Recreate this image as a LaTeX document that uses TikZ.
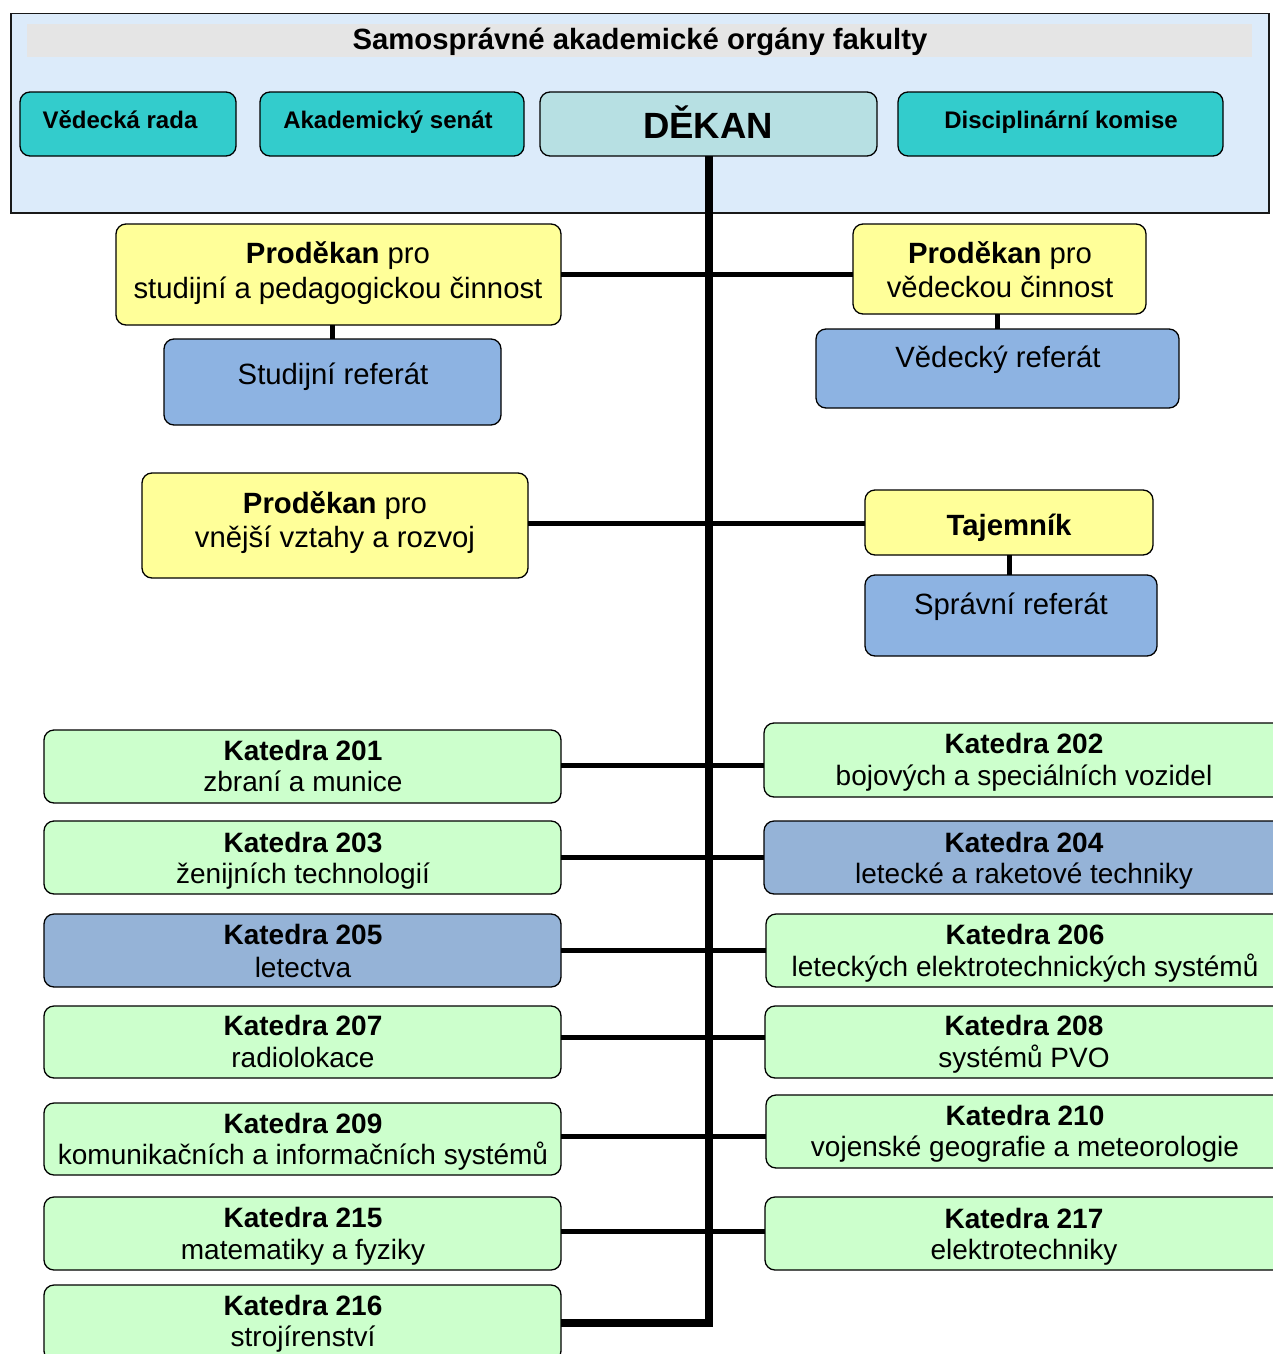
\documentclass[tikz,border=0pt]{standalone}
\usepackage{fontspec}
\setmainfont{Liberation Sans}
\definecolor{outerbg}{RGB}{220,235,250}
\definecolor{barbg}{RGB}{229,229,229}
\definecolor{teal}{RGB}{51,204,204}
\definecolor{dekanbg}{RGB}{183,224,227}
\definecolor{yel}{RGB}{255,255,153}
\definecolor{refblue}{RGB}{141,179,226}
\definecolor{katgreen}{RGB}{204,255,204}
\definecolor{katblue}{RGB}{149,179,215}
\newcommand\mybox[6]{\node[box, fill=#6, minimum width=#4pt, minimum height=#5pt] (#1) at (#2,#3) {};}
\begin{document}
\begin{tikzpicture}[x=1pt,y=-1pt,
  box/.style={draw=black, line width=1.3pt, rounded corners=10pt, anchor=north west, inner sep=0pt, outer sep=0pt},
  t/.style={anchor=base, inner sep=0pt},
  top/.style={t, font=\bfseries\fontsize{24}{28}\selectfont},
  big/.style={t, font=\fontsize{29.3}{35}\selectfont},
  kat/.style={t, font=\fontsize{28}{32}\selectfont},
  trunk/.style={line width=8pt},
  conn/.style={line width=5pt}]
\useasboundingbox (0,0) rectangle (1273,1354);
\clip (0,0) rectangle (1273,1354);
% governing bodies frame
\node[draw=black!90, line width=1.5pt, fill=outerbg, anchor=north west, minimum width=1258pt, minimum height=199pt, inner sep=0pt] (outer) at (10,13) {};
\node[fill=barbg, anchor=north west, minimum width=1225pt, minimum height=33pt, inner sep=0pt] (bar) at (27,24) {};
\node[t, font=\bfseries\fontsize{29.3}{34}\selectfont] (title) at (640,50) {Samosprávné akademické orgány fakulty};
\mybox{vr0}{20}{92}{216}{64}{teal}
\mybox{as}{260}{92}{264}{64}{teal}
\mybox{dekan}{540}{92}{337}{64}{dekanbg}
\mybox{dk}{898}{92}{325}{64}{teal}
\node[top] (vrT) at (120,128) {Vědecká rada};
\node[top] (asT) at (388,128) {Akademický senát};
\node[t, font=\bfseries\fontsize{36.5}{40}\selectfont] (dekanT) at (708,138) {DĚKAN};
\node[top] (dkT) at (1061,128) {Disciplinární komise};
% vice-deans etc.
\mybox{ps}{116}{224}{445}{101}{yel}
\mybox{sr}{164}{339}{337}{86}{refblue}
\mybox{pv}{853}{224}{293}{90}{yel}
\mybox{vref}{816}{329}{363}{79}{refblue}
\mybox{pr}{142}{473}{386}{105}{yel}
\mybox{tj}{865}{490}{288}{65}{yel}
\mybox{sp}{865}{575}{292}{81}{refblue}
\node[big] (psA) at (338,263) {\textbf{Proděkan} pro};
\node[big] (psB) at (338,298) {studijní a pedagogickou činnost};
\node[big] (srT) at (333,384) {Studijní referát};
\node[big] (pvA) at (1000,263) {\textbf{Proděkan} pro};
\node[big] (pvB) at (1000,297) {vědeckou činnost};
\node[big] (vrefT) at (998,367) {Vědecký referát};
\node[big] (prA) at (335,513) {\textbf{Proděkan} pro};
\node[big] (prB) at (335,547) {vnější vztahy a rozvoj};
\node[big, font=\bfseries\fontsize{29.3}{35}\selectfont] (tjT) at (1009,535) {Tajemník};
\node[big] (spT) at (1011,614) {Správní referát};
% departments left
\mybox{k201}{44}{730}{517}{73}{katgreen}
\mybox{k203}{44}{821}{517}{73}{katgreen}
\mybox{k205}{44}{914}{517}{73}{katblue}
\mybox{k207}{44}{1006}{517}{72}{katgreen}
\mybox{k209}{44}{1103}{517}{72}{katgreen}
\mybox{k215}{44}{1197}{517}{73}{katgreen}
\mybox{k216}{44}{1285}{517}{76}{katgreen}
% departments right
\mybox{k202}{764}{723}{520}{74}{katgreen}
\mybox{k204}{764}{821}{520}{73}{katblue}
\mybox{k206}{766}{914}{518}{73}{katgreen}
\mybox{k208}{765}{1006}{519}{72}{katgreen}
\mybox{k210}{766}{1095}{518}{73}{katgreen}
\mybox{k217}{765}{1197}{519}{73}{katgreen}
% department texts
\node[kat] (k201a) at (303,760) {\textbf{Katedra 201}};
\node[kat] (k201b) at (303,791) {zbraní a munice};
\node[kat] (k203a) at (303,852) {\textbf{Katedra 203}};
\node[kat] (k203b) at (303,883) {ženijních technologií};
\node[kat] (k205a) at (303,944) {\textbf{Katedra 205}};
\node[kat] (k205b) at (303,977) {letectva};
\node[kat] (k207a) at (303,1035) {\textbf{Katedra 207}};
\node[kat] (k207b) at (303,1067) {radiolokace};
\node[kat] (k209a) at (303,1133) {\textbf{Katedra 209}};
\node[kat] (k209b) at (303,1164) {komunikačních a informačních systémů};
\node[kat] (k215a) at (303,1227) {\textbf{Katedra 215}};
\node[kat] (k215b) at (303,1259) {matematiky a fyziky};
\node[kat] (k216a) at (303,1315) {\textbf{Katedra 216}};
\node[kat] (k216b) at (303,1346) {strojírenství};
\node[kat] (k202a) at (1024,753) {\textbf{Katedra 202}};
\node[kat] (k202b) at (1024,785) {bojových a speciálních vozidel};
\node[kat] (k204a) at (1024,852) {\textbf{Katedra 204}};
\node[kat] (k204b) at (1024,883) {letecké a raketové techniky};
\node[kat] (k206a) at (1025,944) {\textbf{Katedra 206}};
\node[kat] (k206b) at (1025,976) {leteckých elektrotechnických systémů};
\node[kat] (k208a) at (1024,1035) {\textbf{Katedra 208}};
\node[kat] (k208b) at (1024,1067) {systémů PVO};
\node[kat] (k210a) at (1025,1125) {\textbf{Katedra 210}};
\node[kat] (k210b) at (1025,1156) {vojenské geografie a meteorologie};
\node[kat] (k217a) at (1024,1228) {\textbf{Katedra 217}};
\node[kat] (k217b) at (1024,1259) {elektrotechniky};
% connectors
\draw[trunk, line join=miter] (dekan.south) -- (dekan.south |- k216.east) -- (k216.east);
\draw[conn] (ps.east) -- (ps.east -| pv.west);
\draw[conn] (sr.north) -- (sr.north |- ps.south);
\draw[conn] (vref.north) -- (vref.north |- pv.south);
\draw[conn] ([yshift=2pt]pr.east) -- ([yshift=2pt]pr.east -| tj.west);
\draw[conn] (sp.north -| tj.south) -- (tj.south);
\draw[conn] ([yshift=1pt]k201.east) -- ([yshift=1pt]k201.east -| k202.west);
\draw[conn] (k203.east) -- (k203.east -| k204.west);
\draw[conn] (k205.east) -- (k205.east -| k206.west);
\draw[conn] ([yshift=5pt]k207.east) -- ([yshift=5pt]k207.east -| k208.west);
\draw[conn] ([yshift=3pt]k209.east) -- ([yshift=3pt]k209.east -| k210.west);
\draw[conn] ([yshift=2pt]k215.east) -- ([yshift=2pt]k215.east -| k217.west);
\end{tikzpicture}
\end{document}
